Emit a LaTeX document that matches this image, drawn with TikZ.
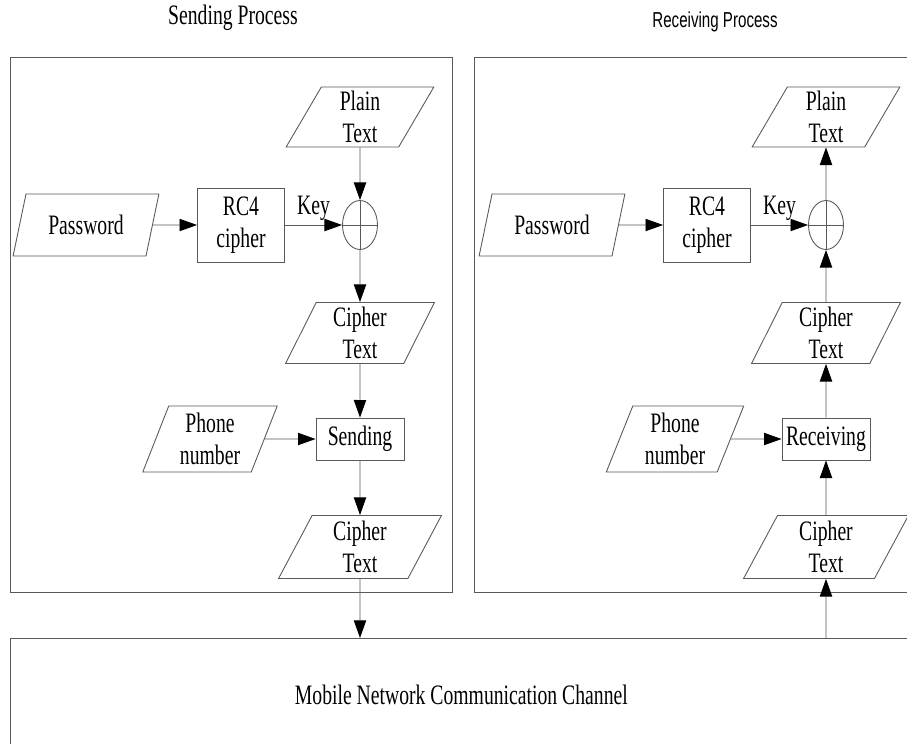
\documentclass[tikz,border=0pt]{standalone}
\usepackage{fontspec}
\setmainfont[FakeStretch=0.7]{Liberation Serif}
\newfontfamily\titlesans[FakeStretch=0.7]{Liberation Sans}
\usetikzlibrary{shapes.geometric, arrows.meta}

\begin{document}
\begin{tikzpicture}[x=0.02cm, y=-0.02cm, line width=0.5pt,
    every node/.style={font=\fontsize{16}{18}\selectfont},
    iobox/.style={trapezium, trapezium left angle=70, trapezium right angle=110,
      trapezium stretches=true, draw=black!65, align=center, inner sep=1pt},
    procbox/.style={rectangle, draw=black!65, align=center, inner sep=1pt},
    xorop/.style={ellipse, draw=black!65, minimum width=0.7cm, minimum height=0.98cm, inner sep=0pt},
    flow/.style={draw=black!65, -{Triangle[length=10pt, width=7pt, color=black]}}]

    % Fix the frame
    \clip (0,0) rectangle (907,744);

    % Draw the two process panels
    \draw[black!65] (10,57) rectangle (452,592);
    \draw[black!65] (915,57) -- (474,57) -- (474,592) -- (915,592);

    % Titles
    \node (titleL) at (233,18) {Sending Process};
    \node[font=\titlesans\fontsize{12.3}{14}\selectfont] (titleR) at (715,22) {Receiving Process};

    % Sending side
    \node[iobox, minimum width=2.96cm, minimum height=1.2cm] (plainL) at (360,117) {Plain\\Text};
    \node[xorop] (xorL) at (360,225) {};
    \node[iobox, minimum width=2.92cm, minimum height=1.24cm] (pwdL) at (86,225) {Password};
    \node[procbox, minimum width=1.74cm, minimum height=1.48cm] (rcL) at (241,225) {RC4\\cipher};
    \node[iobox, minimum width=2.98cm, minimum height=1.22cm] (cipL) at (360,333) {Cipher\\Text};
    \node[iobox, minimum width=2.7cm, minimum height=1.32cm] (phoneL) at (210,439) {Phone\\number};
    \node[procbox, minimum width=1.76cm, minimum height=0.84cm] (sendL) at (360,439) {Sending};
    \node[iobox, minimum width=3.26cm, minimum height=1.26cm] (cipbL) at (360,547) {Cipher\\Text};

    % Receiving side
    \node[iobox, minimum width=2.96cm, minimum height=1.2cm] (plainR) at (826,117) {Plain\\Text};
    \node[xorop] (xorR) at (826,225) {};
    \node[iobox, minimum width=2.92cm, minimum height=1.24cm] (pwdR) at (552,225) {Password};
    \node[procbox, minimum width=1.74cm, minimum height=1.48cm] (rcR) at (707,225) {RC4\\cipher};
    \node[iobox, minimum width=2.98cm, minimum height=1.22cm] (cipR) at (826,333) {Cipher\\Text};
    \node[iobox, minimum width=2.76cm, minimum height=1.32cm] (phoneR) at (675,439) {Phone\\number};
    \node[procbox, minimum width=1.76cm, minimum height=0.84cm] (recvR) at (826,439) {Receiving};
    \node[iobox, minimum width=3.3cm, minimum height=1.26cm] (cipbR) at (826,547) {Cipher\\Text};

    % Channel
    \node[procbox, anchor=north west, minimum width=18.04cm, minimum height=2.24cm] (chan) at (10,638)
        {Mobile Network Communication Channel};

    % XOR crosses
    \draw[black!65] (xorL.north) -- (xorL.south) (xorL.west) -- (xorL.east);
    \draw[black!65] (xorR.north) -- (xorR.south) (xorR.west) -- (xorR.east);

    % Draw the sending flow
    \draw[flow] (plainL) -- (xorL);
    \draw[flow] (pwdL) -- (rcL);
    \draw[flow] (rcL) -- node[above, inner sep=2pt] (keyL) {Key} (xorL);
    \draw[flow] (xorL) -- (cipL);
    \draw[flow] (cipL) -- (sendL);
    \draw[flow] (phoneL) -- (sendL);
    \draw[flow] (sendL) -- (cipbL);
    \draw[flow] (cipbL) -- (cipbL |- chan.north);

    % Draw the receiving flow
    \draw[flow] (cipbR |- chan.north) -- (cipbR);
    \draw[flow] (cipbR) -- (recvR);
    \draw[flow] (phoneR) -- (recvR);
    \draw[flow] (recvR) -- (cipR);
    \draw[flow] (cipR) -- (xorR);
    \draw[flow] (xorR) -- (plainR);
    \draw[flow] (pwdR) -- (rcR);
    \draw[flow] (rcR) -- node[above, inner sep=2pt] (keyR) {Key} (xorR);
\end{tikzpicture}
\end{document}
